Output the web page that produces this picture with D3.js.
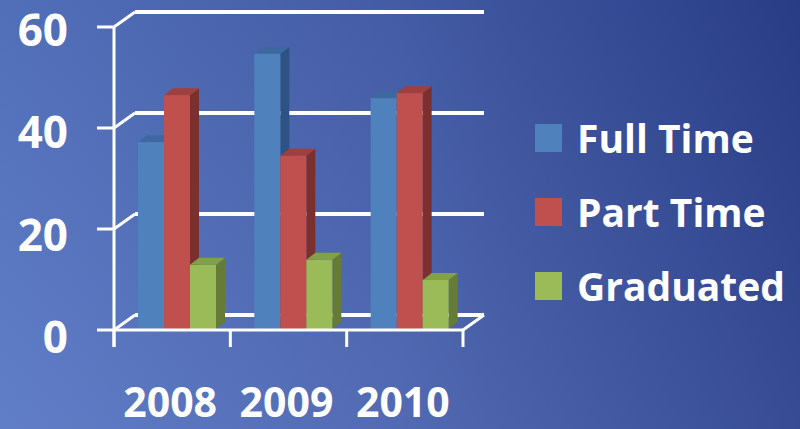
<!DOCTYPE html>
<html>
<head>
<meta charset="utf-8">
<script src="https://cdn.jsdelivr.net/npm/d3@7"></script>
<style>
  html, body { margin: 0; padding: 0; overflow: hidden; }
  svg { display: block; }
  text { font-family: 'Open Sans', 'Liberation Sans', sans-serif; font-weight: bold; fill: #fff; }
</style>
</head>
<body>
<script>
'use strict';

// data
const years = ['2008', '2009', '2010'];
const seriesNames = ['Full Time', 'Part Time', 'Graduated'];
const fullTime = [37, 54.5, 45.7];
const partTime = [46.3, 34.3, 46.7];
const graduated = [12.7, 13.7, 9.7];
const yTicks = [0, 20, 40, 60];

const seriesValues = [fullTime, partTime, graduated];
const colors = [
  {front: '#4f81bd', top: '#3d68a0', side: '#2e5283'},
  {front: '#c0504d', top: '#a03f3c', side: '#7c302e'},
  {front: '#9bbb59', top: '#82a047', side: '#667c36'}
];

const width = 800, height = 429;
const depth = {dx: 21, dy: -15};     // floor / wall depth
const barDepth = {dx: 9, dy: -7};    // column depth

const svg = d3.select('body')
  .append('svg')
  .attr('width', width)
  .attr('height', height);

// background gradient
const defs = svg.append('defs');
const bg = defs.append('linearGradient')
  .attr('id', 'bg')
  .attr('x1', 0).attr('y1', 0).attr('x2', 1).attr('y2', 0);
bg.append('stop').attr('offset', '0%').attr('stop-color', '#5676c4');
bg.append('stop').attr('offset', '50%').attr('stop-color', '#4761ae');
bg.append('stop').attr('offset', '100%').attr('stop-color', '#2a408e');
const shade = defs.append('linearGradient')
  .attr('id', 'shade')
  .attr('x1', 0).attr('y1', 0).attr('x2', 0).attr('y2', 1);
shade.append('stop').attr('offset', '0%').attr('stop-color', '#000').attr('stop-opacity', 0.06);
shade.append('stop').attr('offset', '100%').attr('stop-color', '#fff').attr('stop-opacity', 0.06);

svg.append('rect').attr('width', width).attr('height', height).attr('fill', 'url(#bg)');
svg.append('rect').attr('width', width).attr('height', height).attr('fill', 'url(#shade)');

// scales
const xScale = d3.scaleBand()
  .domain(years)
  .range([114, 463]);

const innerScale = d3.scaleBand()
  .domain(seriesNames)
  .range([24, 102]);

const yScale = d3.scaleLinear()
  .domain([0, 60])
  .range([330, 27]);

// labels sit a little lower than their ticks in the picture
const labelScale = d3.scaleLinear()
  .domain([0, 60])
  .range([337, 30]);

const x0 = xScale.range()[0], x1 = xScale.range()[1];
const y0 = yScale(0);

// back wall gridlines and their connectors to the front axis
const grid = svg.append('g')
  .attr('stroke', '#fff')
  .attr('fill', 'none');

grid.selectAll('line.back')
  .data(yTicks)
  .enter()
  .append('line')
  .attr('class', 'back')
  .attr('x1', x0 + depth.dx)
  .attr('x2', x1 + depth.dx)
  .attr('y1', d => yScale(d) + depth.dy)
  .attr('y2', d => yScale(d) + depth.dy)
  .attr('stroke-width', 4);

grid.selectAll('line.diag')
  .data(yTicks)
  .enter()
  .append('line')
  .attr('class', 'diag')
  .attr('x1', x0)
  .attr('x2', x0 + depth.dx)
  .attr('y1', d => yScale(d))
  .attr('y2', d => yScale(d) + depth.dy)
  .attr('stroke-width', 3);

// right floor edge
grid.append('line')
  .attr('x1', x1).attr('y1', y0)
  .attr('x2', x1 + depth.dx).attr('y2', y0 + depth.dy)
  .attr('stroke-width', 3);

// columns
const groups = svg.append('g')
  .selectAll('g')
  .data(years)
  .enter()
  .append('g')
  .attr('transform', d => `translate(${xScale(d)},0)`);

groups.each(function (year, yi) {
  const g = d3.select(this);
  seriesNames.forEach((name, si) => {
    const v = seriesValues[si][yi];
    const bx = innerScale(name);
    const bw = innerScale.bandwidth();
    const top = yScale(v) - 1;
    const base = y0 - 1;
    const c = colors[si];
    // side face
    g.append('path')
      .attr('d', `M${bx + bw},${top} L${bx + bw + barDepth.dx},${top + barDepth.dy} ` +
        `L${bx + bw + barDepth.dx},${base + barDepth.dy} L${bx + bw},${base} Z`)
      .attr('fill', c.side);
    // top face
    g.append('path')
      .attr('d', `M${bx},${top} L${bx + barDepth.dx},${top + barDepth.dy} ` +
        `L${bx + bw + barDepth.dx},${top + barDepth.dy} L${bx + bw},${top} Z`)
      .attr('fill', c.top);
    // front face
    g.append('rect')
      .attr('x', bx)
      .attr('y', top)
      .attr('width', bw)
      .attr('height', base - top)
      .attr('fill', c.front);
  });
});

// front axis lines
const axis = svg.append('g').attr('stroke', '#fff').attr('fill', 'none').attr('stroke-width', 3);

axis.append('line')
  .attr('x1', x0).attr('y1', yScale(60))
  .attr('x2', x0).attr('y2', y0 + 17);

axis.append('line')
  .attr('x1', x0).attr('y1', y0)
  .attr('x2', x1).attr('y2', y0);

axis.selectAll('line.ytick')
  .data(yTicks)
  .enter()
  .append('line')
  .attr('class', 'ytick')
  .attr('x1', x0 - 17).attr('x2', x0)
  .attr('y1', d => yScale(d)).attr('y2', d => yScale(d));

const catEdges = years.map(d => xScale(d)).concat([x1]);
axis.selectAll('line.xtick')
  .data(catEdges)
  .enter()
  .append('line')
  .attr('class', 'xtick')
  .attr('x1', d => d).attr('x2', d => d)
  .attr('y1', y0).attr('y2', y0 + 17);

// y labels
svg.append('g')
  .selectAll('text')
  .data(yTicks)
  .enter()
  .append('text')
  .attr('x', 68)
  .attr('y', d => labelScale(d))
  .attr('dy', '0.36em')
  .attr('text-anchor', 'end')
  .style('font-size', '44px')
  .text(d => d);

// x labels
svg.append('g')
  .selectAll('text')
  .data(years)
  .enter()
  .append('text')
  .attr('x', d => xScale(d) + xScale.bandwidth() / 2 - 2)
  .attr('y', 417)
  .attr('text-anchor', 'middle')
  .style('font-size', '41px')
  .text(d => d);

// legend
const legend = svg.append('g')
  .attr('transform', 'translate(535,124)');

const item = legend.selectAll('g')
  .data(seriesNames)
  .enter()
  .append('g')
  .attr('transform', (d, i) => `translate(0,${i * 74})`);

item.append('rect')
  .attr('width', 27)
  .attr('height', 28)
  .attr('fill', (d, i) => colors[i].front);

item.append('text')
  .attr('x', 42)
  .attr('y', 29)
  .style('font-size', '39px')
  .text(d => d);
</script>
</body>
</html>
